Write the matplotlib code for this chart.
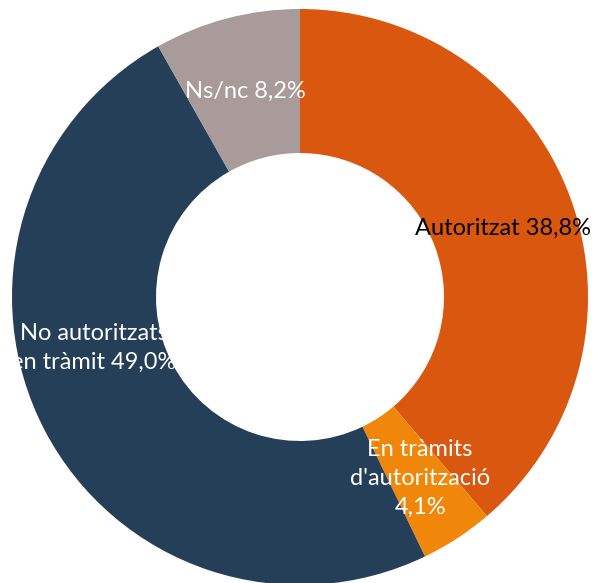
import matplotlib.pyplot as plt

# dades
categories = ["Autoritzat", "En tràmits d'autorització", "No autoritzats en tràmit", "Ns/nc"]
values = [38.8, 4.1, 49.0, 8.2]
labels = ["Autoritzat 38,8%", "En tràmits\nd'autorització\n4,1%", "No autoritzats\nen tràmit 49,0%", "Ns/nc 8,2%"]
colors = ["#DA570F", "#F0870B", "#253F58", "#A99B9A"]
label_colors = ["black", "white", "white", "white"]
label_pos = [(0.705, 0.24), (0.417, -0.63), (-0.715, -0.178), (-0.19, 0.715)]

plt.rcParams['font.family'] = ['Lato', 'DejaVu Sans']

fig = plt.figure(figsize=(5.97, 5.83), dpi=100)
ax = fig.add_axes([0, 0, 1, 1])

r_px = 288.0
ax.pie(values, colors=colors, startangle=90, counterclock=False,
       radius=1.0, wedgeprops=dict(width=0.5, edgecolor='none'))

for lab, col, (x, y) in zip(labels, label_colors, label_pos):
    ax.text(x, y, lab, color=col, fontsize=17, ha='center', va='center',
            linespacing=1.45)

ax.set_xlim(-300 / r_px, 297 / r_px)
ax.set_ylim(-(583 - 297) / r_px, 297 / r_px)
ax.set_aspect('auto')
ax.axis('off')

fig.savefig("out.png", dpi=100)
